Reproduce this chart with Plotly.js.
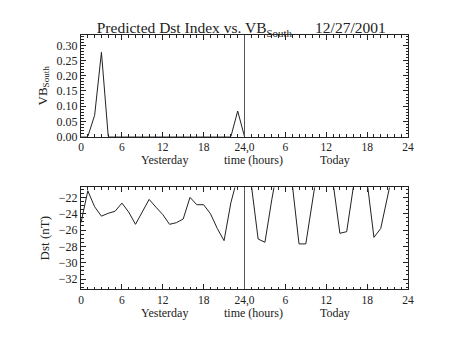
<!DOCTYPE html>
<html>
<head>
<meta charset="utf-8">
<script src="https://cdn.plot.ly/plotly-3.0.1.min.js"></script>
<style>html,body{margin:0;padding:0;background:#fff;}#chart{width:454px;height:341px;}</style>
</head>
<body>
<div id="chart"></div>
<script>
// Hours since start of "Yesterday" (0..48, 24 = midnight)
const vbHours = [0,1,2,3,4,5,6,7,8,9,10,11,12,13,14,15,16,17,18,19,20,21,22,23,24];
const vbSouth = [0,0,0.07,0.277,0,0,0,0,0,0,0,0,0,0,0,0,0,0,0,0,0,0,0,0.084,0];

const dstHours = [0,1,2,3,4,5,6,7,8,9,10,11,12,13,14,15,16,17,18,19,20,21,22,23,24,
                  25,26,27,28,29,30,31,32,33,34,35,36,37,38,39,40,41,42,43,44,45,46,47,48];
const dst = [-25.1,-21.2,-23.15,-24.3,-23.95,-23.7,-22.7,-23.8,-25.3,-23.8,-22.25,-23.2,-24.1,-25.3,-25.1,-24.65,
             -22.0,-22.9,-22.9,-24.0,-25.8,-27.3,-22.65,-19.5,-18.0,
             -20.45,-27.1,-27.5,-22.3,-17.7,-17.5,-20.3,-27.7,-27.7,-22.2,-17.0,-17.5,-20.2,-26.4,-26.2,-20.6,
             -18.0,-20.1,-26.9,-25.8,-21.2,-18.0,-17.5,-18.0];

const midnight = 24;
const xTickVals = [0,6,12,18,24,30,36,42,48];
const xTickText = ['0','6','12','18','24,0','6','12','18','24'];
const vbRange = [0, 0.334];
const dstRange = [-33.22, -20.78];
const dayLabels = ['Yesterday', 'time (hours)', 'Today'];
const dayLabelX = [12.3, 25.3, 37.3];

const FONT = 'Liberation Serif, DejaVu Serif, serif';
const ink = '#222';

function xAxis(anchor) {
  return {
    anchor: anchor, range: [0, 48], tickmode: 'array', tickvals: xTickVals, ticktext: xTickText,
    ticks: 'inside', ticklen: 5, tickcolor: ink, showline: true, linecolor: ink, linewidth: 1,
    mirror: 'ticks', showgrid: false, zeroline: false,
    minor: {tickmode: 'linear', tick0: 0, dtick: 1, ticks: 'inside', ticklen: 2.5, tickcolor: ink, showgrid: false},
    tickfont: {family: FONT, size: 11.5, color: ink}
  };
}

const traces = [
  {x: vbHours, y: vbSouth, xaxis: 'x', yaxis: 'y', mode: 'lines', line: {color: ink, width: 1}, hoverinfo: 'none'},
  {x: dstHours, y: dst, xaxis: 'x2', yaxis: 'y2', mode: 'lines', line: {color: ink, width: 1}, hoverinfo: 'none'}
];

const annotations = [];
dayLabels.forEach((t, i) => {
  annotations.push({text: t, x: dayLabelX[i], xref: 'x', y: (289 - 159.5) / 254, yref: 'paper', yanchor: 'middle',
    showarrow: false, borderpad: 0, font: {family: FONT, size: 12, color: ink}});
  annotations.push({text: t, x: dayLabelX[i], xref: 'x2', y: (289 - 313) / 254, yref: 'paper', yanchor: 'middle',
    showarrow: false, borderpad: 0, font: {family: FONT, size: 12, color: ink}});
});

const layout = {
  width: 454, height: 341,
  margin: {l: 81, r: 46, t: 35, b: 52},
  paper_bgcolor: '#fff', plot_bgcolor: '#fff',
  showlegend: false,
  title: {text: 'Predicted Dst Index vs. VB<sub>South</sub>\u00A0\u00A0\u00A0\u00A0\u00A0\u00A012/27/2001',
    x: 0.49, xref: 'paper', xanchor: 'center', y: 1 - 28/341, yref: 'container', yanchor: 'middle',
    font: {family: FONT, size: 15.5, color: ink}},
  xaxis: Object.assign(xAxis('y'), {domain: [0, 1]}),
  xaxis2: Object.assign(xAxis('y2'), {domain: [0, 1]}),
  yaxis: {
    domain: [0.6, 1], anchor: 'x', range: vbRange, tickmode: 'linear', tick0: 0, dtick: 0.05, tickformat: '.2f',
    ticks: 'inside', ticklen: 5, tickcolor: ink, showline: true, linecolor: ink, linewidth: 1, mirror: 'ticks',
    showgrid: false, zeroline: false,
    minor: {tickmode: 'linear', tick0: 0, dtick: 0.01, ticks: 'inside', ticklen: 2.5, tickcolor: ink, showgrid: false},
    tickfont: {family: FONT, size: 12, color: ink},
    title: {text: 'VB<sub>South</sub>', font: {family: FONT, size: 13, color: ink}, standoff: 6}
  },
  yaxis2: {
    domain: [0, 0.4], anchor: 'x2', range: dstRange, tickmode: 'linear', tick0: 0, dtick: 2,
    ticks: 'inside', ticklen: 5, tickcolor: ink, showline: true, linecolor: ink, linewidth: 1, mirror: 'ticks',
    showgrid: false, zeroline: false,
    minor: {tickmode: 'linear', tick0: 0, dtick: 0.5, ticks: 'inside', ticklen: 2.5, tickcolor: ink, showgrid: false},
    tickfont: {family: FONT, size: 12, color: ink},
    title: {text: 'Dst (nT)', font: {family: FONT, size: 13, color: ink}, standoff: 6}
  },
  shapes: [
    {type: 'line', xref: 'x', yref: 'y domain', x0: midnight, x1: midnight, y0: 0, y1: 1, line: {color: '#555', width: 1}},
    {type: 'line', xref: 'x2', yref: 'y2 domain', x0: midnight, x1: midnight, y0: 0, y1: 1, line: {color: '#555', width: 1}}
  ],
  annotations: annotations
};

Plotly.newPlot('chart', traces, layout, {staticPlot: true, displayModeBar: false});
</script>
</body>
</html>
